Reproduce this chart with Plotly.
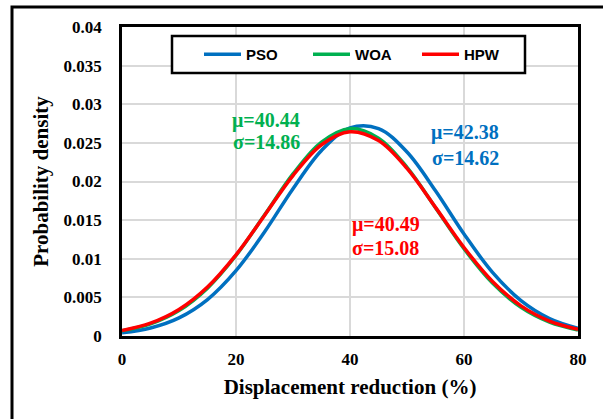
import plotly.graph_objects as go

# x positions (Displacement reduction, %)
x_vals = [0, 5, 10, 15, 20, 25, 30, 35, 40, 45, 50, 55, 60, 65, 70, 75, 80]

# Probability density
pso = [0.00041, 0.00104, 0.00235, 0.00472, 0.00846, 0.01346, 0.01907, 0.02402, 0.02693,
       0.02685, 0.02382, 0.01880, 0.01320, 0.00824, 0.00458, 0.00226, 0.00100]
woa = [0.00066, 0.00156, 0.00329, 0.00620, 0.01042, 0.01565, 0.02098, 0.02511, 0.02684,
       0.02561, 0.02183, 0.01661, 0.01129, 0.00685, 0.00371, 0.00180, 0.00078]
hpw = [0.00072, 0.00166, 0.00343, 0.00634, 0.01051, 0.01561, 0.02077, 0.02476, 0.02644,
       0.02530, 0.02169, 0.01665, 0.01145, 0.00706, 0.00390, 0.00193, 0.00086]

series_names = ["PSO", "WOA", "HPW"]
series_colors = ["#0070C0", "#00B050", "#FF0000"]
series_values = [pso, woa, hpw]

x_ticks = [0, 20, 40, 60, 80]
y_ticks = [0, 0.005, 0.01, 0.015, 0.02, 0.025, 0.03, 0.035, 0.04]
y_tick_labels = ["0", "0.005", "0.01", "0.015", "0.02", "0.025", "0.03", "0.035", "0.04"]

# statistics labels
labels = [
    ("μ=42.38", "σ=14.62", 60.2, 0.02628, 0.02304, "#0070C0"),
    ("μ=40.44", "σ=14.86", 25.3, 0.02796, 0.02511, "#00B050"),
    ("μ=40.49", "σ=15.08", 46.3, 0.01437, 0.01140, "#FF0000"),
]

fig = go.Figure()
for name, col, vals in zip(series_names, series_colors, series_values):
    fig.add_trace(go.Scatter(x=x_vals, y=vals, mode="lines", name=name,
                             line=dict(color=col, width=3.5, shape="spline", smoothing=1.0)))

serif = "Liberation Serif, Times New Roman, serif"
ann = []
for l1, l2, xa, y1, y2, col in labels:
    for txt, yy in ((l1, y1), (l2, y2)):
        ann.append(dict(x=xa, y=yy, xref="x", yref="y", text="<b>%s</b>" % txt,
                        showarrow=False, font=dict(family=serif, size=20, color=col)))

W, H = 603, 419
L, R, T, B = 122, 25, 27, 83
pw, ph = W - L - R, H - T - B
def px(xp):
    return (xp - L) / pw
def py(yp):
    return (H - B - yp) / ph

shapes = [
    # outer chart border
    dict(type="rect", xref="paper", yref="paper", x0=px(12), x1=px(640), y0=py(460), y1=py(7),
         line=dict(color="black", width=3), fillcolor="rgba(0,0,0,0)", layer="above"),
    # legend box
    dict(type="rect", xref="paper", yref="paper", x0=px(172), x1=px(525), y0=py(73), y1=py(36),
         line=dict(color="black", width=2.5), fillcolor="white", layer="above"),
]

fig.update_layout(
    width=W, height=H,
    margin=dict(l=L, r=R, t=T, b=B),
    paper_bgcolor="white", plot_bgcolor="white",
    showlegend=True,
    legend=dict(orientation="h", x=px(199), y=py(54.5), xanchor="left", yanchor="middle",
                bgcolor="rgba(0,0,0,0)", borderwidth=0, entrywidth=57, itemwidth=37,
                font=dict(family="Liberation Sans, Arial, sans-serif", size=15, color="black",
                          weight="bold"),
                traceorder="normal"),
    annotations=ann,
    shapes=shapes,
)
fig.update_xaxes(range=[0, 80], tickvals=x_ticks, ticktext=["<b>%d</b>" % v for v in x_ticks],
                 showgrid=True, gridcolor="#D9D9D9",
                 gridwidth=1.5, showline=True, linecolor="black", linewidth=2.5, mirror=True,
                 zeroline=False, ticks="", ticklabelstandoff=6,
                 tickfont=dict(family=serif, size=17, color="black"),
                 title=dict(text="<b>Displacement reduction (%)</b>", standoff=12,
                            font=dict(family=serif, size=21, color="black")))
fig.update_yaxes(range=[0, 0.04], tickvals=y_ticks, ticktext=["<b>%s</b>" % t for t in y_tick_labels],
                 showgrid=True, gridcolor="#D9D9D9", gridwidth=1.5, showline=True, linecolor="black",
                 linewidth=2.5, mirror=True, zeroline=False, ticks="", ticklabelstandoff=14,
                 tickfont=dict(family=serif, size=17, color="black"),
                 title=dict(text="<b>Probability density</b>", standoff=10,
                            font=dict(family=serif, size=21, color="black")))

fig.write_html("out.html", config={"displayModeBar": False},
               post_script="document.body.style.margin='0';")
